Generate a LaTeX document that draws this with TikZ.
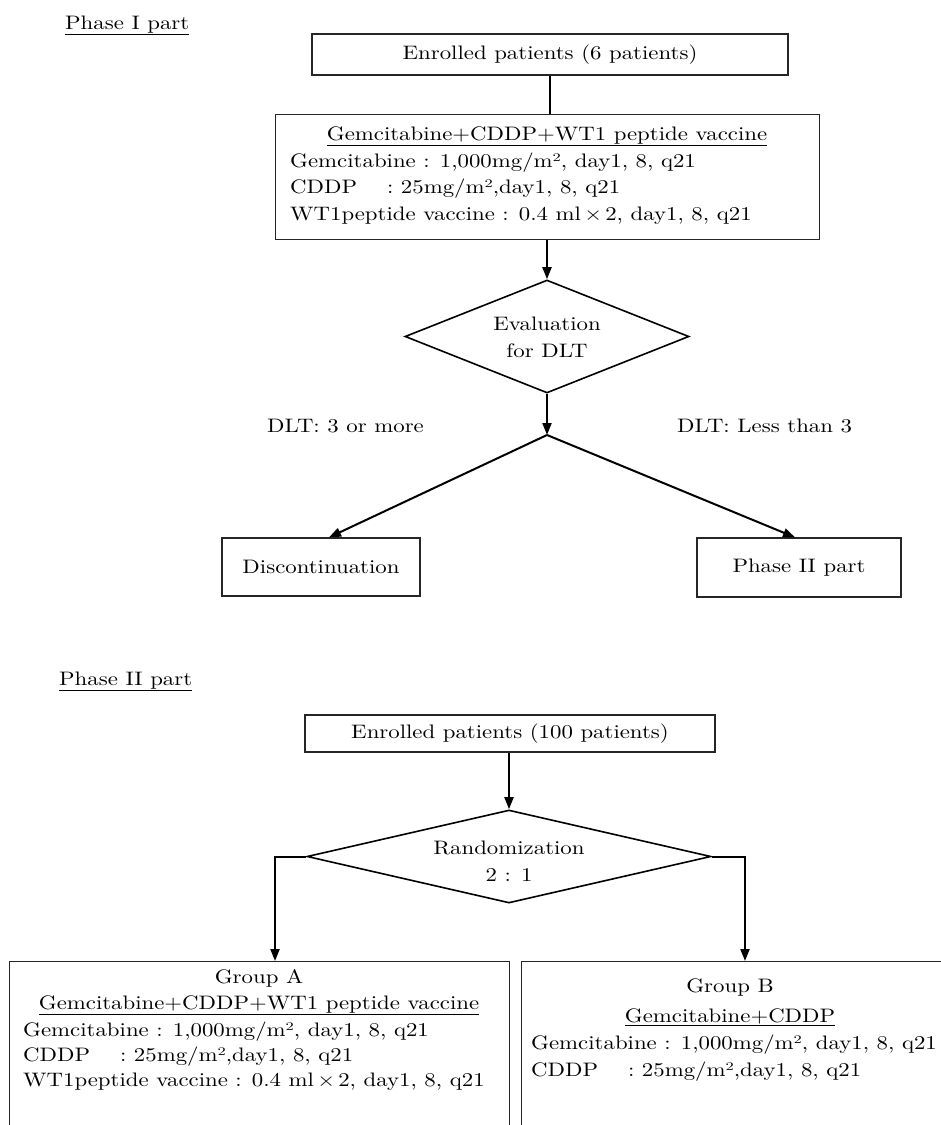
\documentclass[tikz,border=0pt]{standalone}
\usepackage{fontspec}
\setmainfont{lmroman10-regular.otf}[FakeStretch=1.17]
\usetikzlibrary{shapes.geometric,arrows.meta}
\newcommand\mfs{\fontsize{19.5pt}{26.7pt}\selectfont}
\begin{document}
\begin{tikzpicture}[x=1pt,y=-1pt,
  every node/.style={font=\mfs, inner sep=0pt},
  boxn/.style={draw=black!85, line width=1.3pt, rectangle},
  decn/.style={draw, line width=1.6pt, diamond},
  conn/.style={line width=2pt},
  arr/.style={conn, -{Triangle[length=12pt,width=9pt]}},
  txt/.style={anchor=base west},
  ctxt/.style={anchor=base}]
\clip (0,0) rectangle (941,1125);
\fill[white] (0,0) rectangle (941,1125);

% ---------- Phase I ----------
\node[txt] (l1) at (65,29) {\underline{Phase I part}};
\node[boxn, minimum width=476pt, minimum height=41pt] (b1) at (550,54.5) {Enrolled patients (6 patients)};
\node[boxn, minimum width=544pt, minimum height=125pt, anchor=north west] (b2) at (275,114) {};
\node[ctxt] (b2t) at (547,140) {\underline{Gemcitabine+CDDP+WT1 peptide vaccine}};
\node[txt] (b2a) at (290,167) {Gemcitabine : 1,000mg/m², day1, 8, q21};
\node[txt] (b2b) at (290,193.5) {CDDP\hspace{30pt}: 25mg/m²,day1, 8, q21};
\node[txt] (b2c) at (290,220) {WT1peptide vaccine : 0.4 ml\,×\,2, day1, 8, q21};
\draw[conn] (b1.south) -- (b1.south |- b2.north);

\node[decn, minimum width=284pt, minimum height=113pt] (d1) at (547,336.5) {};
\node[align=center] (d1t) at (547,337) {Evaluation\\for DLT};
\draw[arr] (d1.north |- b2.south) -- (d1.north);
\coordinate (ap) at (547,435);
\draw[arr] (d1.south) -- (ap);
\node[txt] (lab1) at (267,432) {DLT: 3 or more};
\node[txt] (lab2) at (677,432) {DLT: Less than 3};
\node[boxn, minimum width=198pt, minimum height=58pt] (disc) at (321,567) {Discontinuation};
\node[boxn, minimum width=204pt, minimum height=59pt] (p2) at (799,567.5) {Phase II part};
\draw[arr] (ap) -- ([xshift=8pt]disc.north);
\draw[arr] (ap) -- ([xshift=-4pt]p2.north);

% ---------- Phase II ----------
\node[txt] (l2) at (59,685) {\underline{Phase II part}};
\node[boxn, minimum width=410pt, minimum height=37pt] (b3) at (510,733.5) {Enrolled patients (100 patients)};
\node[decn, minimum width=404pt, minimum height=93pt] (d2) at (509,856.5) {};
\node[align=center] (d2t) at (509,861) {Randomization\\2 : 1};
\draw[arr] (d2.north |- b3.south) -- (d2.north);

\node[boxn, minimum width=500pt, minimum height=190pt, anchor=north west] (gA) at (9,961) {};
\node[boxn, minimum width=440pt, minimum height=190pt, anchor=north west] (gB) at (521,961) {};
\coordinate (ta) at (275,961);
\coordinate (tb) at (745,961);
\draw[arr] (d2.west) -| (ta);
\draw[arr] (d2.east) -| (tb);

\node[ctxt] (gAh) at (259,983) {Group A};
\node[ctxt] (gAt) at (259,1009) {\underline{Gemcitabine+CDDP+WT1 peptide vaccine}};
\node[txt] (gAa) at (23,1036) {Gemcitabine : 1,000mg/m², day1, 8, q21};
\node[txt] (gAb) at (23,1061) {CDDP\hspace{30pt}: 25mg/m²,day1, 8, q21};
\node[txt] (gAc) at (23,1086) {WT1peptide vaccine : 0.4 ml\,×\,2, day1, 8, q21};

\node[ctxt] (gBh) at (730,992) {Group B};
\node[ctxt] (gBt) at (730,1022) {\underline{Gemcitabine+CDDP}};
\node[txt] (gBa) at (531,1049) {Gemcitabine : 1,000mg/m², day1, 8, q21};
\node[txt] (gBb) at (531,1076) {CDDP\hspace{30pt}: 25mg/m²,day1, 8, q21};
\end{tikzpicture}
\end{document}
